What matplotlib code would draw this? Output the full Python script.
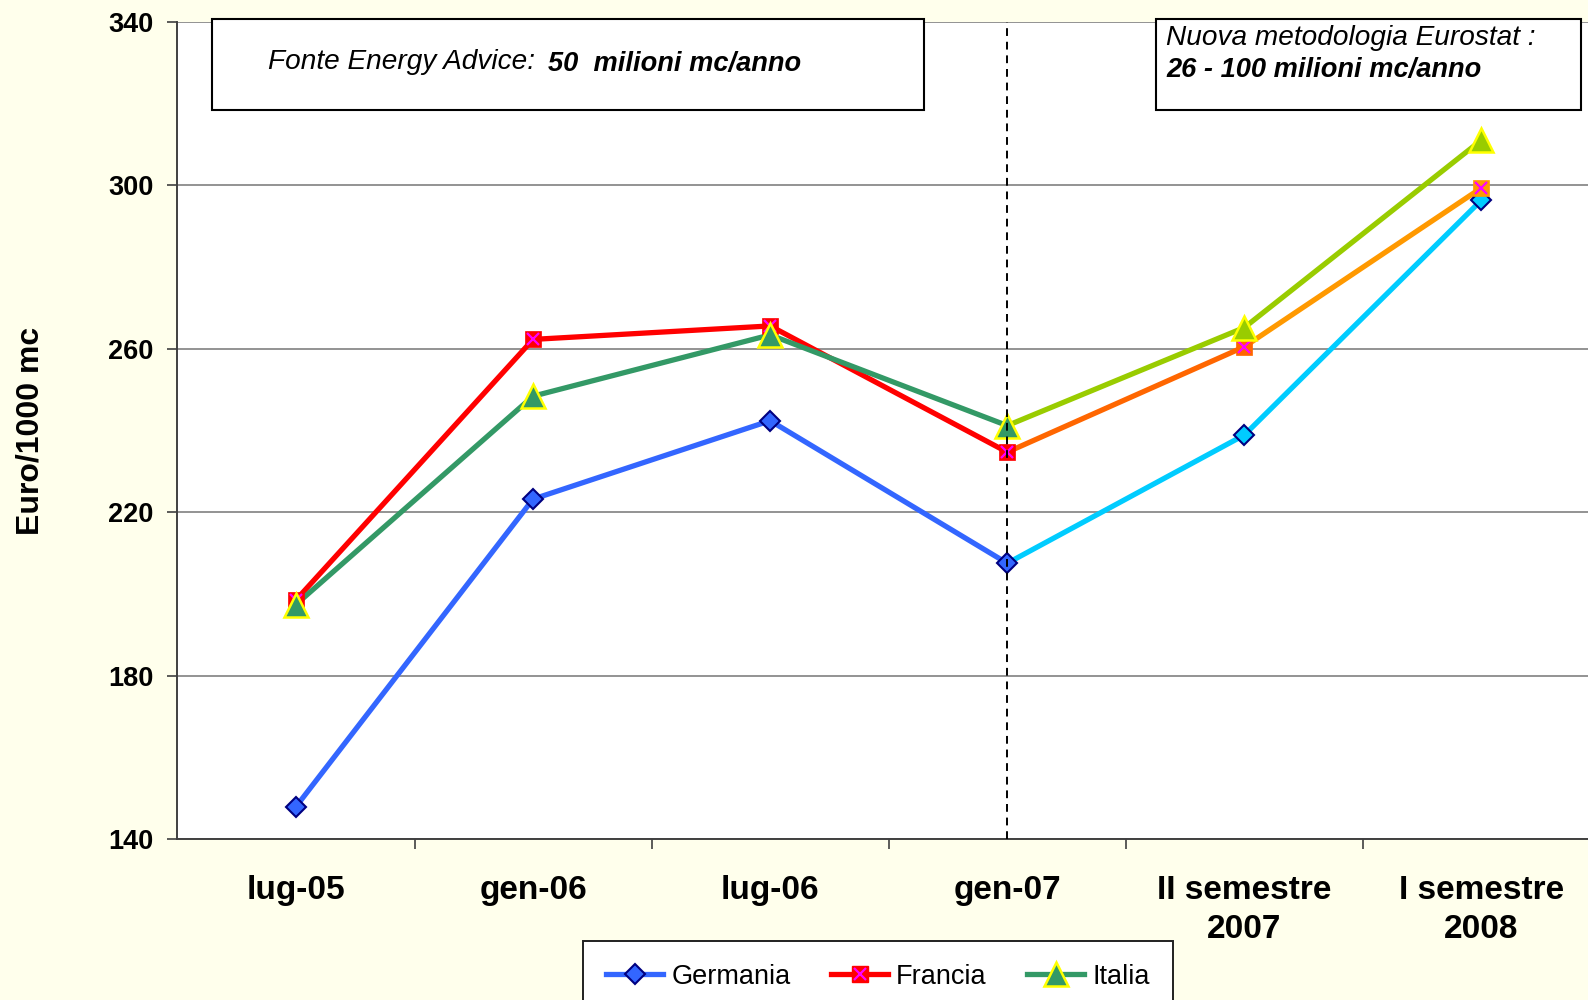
import matplotlib
matplotlib.use("Agg")
import matplotlib.pyplot as plt
from matplotlib.lines import Line2D
from matplotlib.patches import Rectangle
from matplotlib.legend_handler import HandlerTuple

plt.rcParams['font.family'] = ['Liberation Sans', 'DejaVu Sans']

categories = ["lug-05", "gen-06", "lug-06", "gen-07", "II semestre\n2007", "I semestre\n2008"]
germania = [147.9, 223.2, 242.4, 207.5, 238.9, 296.4]
francia = [198.5, 262.3, 265.6, 234.7, 260.5, 299.4]
italia = [197.4, 248.4, 263.4, 241.2, 265.2, 311.1]
yticks = [140, 180, 220, 260, 300, 340]
series_names = ["Germania", "Francia", "Italia"]

BG = '#FFFFEC'
fig = plt.figure(figsize=(15.88, 10), dpi=100, facecolor=BG)
left = 177.4 / 1588
width = (1600 - 177.4) / 1588
ax = fig.add_axes([left, 0.161, width, 0.817])
ax.set_facecolor('white')

x = list(range(len(categories)))
lw = 3.8

# Germania
ax.plot(x[:4], germania[:4], color='#3366FF', lw=lw, zorder=3, solid_capstyle='round')
ax.plot(x[3:], germania[3:], color='#00CCFF', lw=lw, zorder=3, solid_capstyle='round')
# Francia
ax.plot(x[:4], francia[:4], color='#FF0000', lw=lw, zorder=3, solid_capstyle='round')
ax.plot(x[3:5], francia[3:5], color='#FF6600', lw=lw, zorder=3, solid_capstyle='round')
ax.plot(x[4:], francia[4:], color='#FF9900', lw=lw, zorder=3, solid_capstyle='round')
# Italia
ax.plot(x[:4], italia[:4], color='#339966', lw=lw, zorder=3, solid_capstyle='round')
ax.plot(x[3:], italia[3:], color='#99CC00', lw=lw, zorder=3, solid_capstyle='round')

# markers
ax.plot(x[:4], germania[:4], ls='none', marker='D', ms=10, mfc='#3366FF', mec='#000080', mew=1.5, zorder=4)
ax.plot(x[4:], germania[4:], ls='none', marker='D', ms=10, mfc='#00CCFF', mec='#000080', mew=1.5, zorder=4)

ax.plot(x[:4], francia[:4], ls='none', marker='s', ms=11.5, mfc='#FF0000', mec='#FF0000', mew=0.5, zorder=4)
ax.plot(x[4:5], francia[4:5], ls='none', marker='s', ms=11.5, mfc='#FF6600', mec='#FF6600', mew=0.5, zorder=4)
ax.plot(x[5:], francia[5:], ls='none', marker='s', ms=11.5, mfc='#FF9900', mec='#FF9900', mew=0.5, zorder=4)
ax.plot(x, francia, ls='none', marker='x', ms=9, mec='#FF00FF', mew=1.6, zorder=4)

ax.plot(x[:4], italia[:4], ls='none', marker='^', ms=17, mfc='#339966', mec='#FFFF00', mew=1.8, zorder=5)
ax.plot(x[4:], italia[4:], ls='none', marker='^', ms=17, mfc='#99CC00', mec='#FFFF00', mew=1.8, zorder=5)

# dashed separator
ax.axvline(3, color='black', lw=1.4, ls=(0, (4, 3)), zorder=6)

ax.set_xlim(-0.5, 5.5)
ax.set_ylim(140, 340)
ax.set_yticks(yticks)
ax.set_yticklabels([str(v) for v in yticks], fontsize=19.5, fontweight='bold')
ax.set_xticks(x)
ax.set_xticklabels(categories, fontsize=24, fontweight='bold', linespacing=1.32)
ax.set_xticks([i + 0.5 for i in range(5)], minor=True)
ax.tick_params(axis='x', which='major', length=0, pad=26)
ax.tick_params(axis='x', which='minor', length=7, width=1.2, color='#404040', direction='out')
ax.tick_params(axis='y', length=7, width=1.2, color='#404040', direction='out', pad=10)
ax.yaxis.grid(True, color='#808080', lw=1.2)
ax.set_axisbelow(True)
for s in ['top', 'right']:
    ax.spines[s].set_visible(False)
for s in ['left', 'bottom']:
    ax.spines[s].set_color('#404040')
    ax.spines[s].set_linewidth(1.4)

ax.set_ylabel("Euro/1000 mc", fontsize=23, fontweight='bold')
ax.yaxis.set_label_coords(-0.093, 0.5)

# annotation boxes (figure coords)
def fig_rect(x0, y0, x1, y1):
    r = Rectangle((x0 / 1588, 1 - y1 / 1000), (x1 - x0) / 1588, (y1 - y0) / 1000,
                  transform=fig.transFigure, facecolor='white', edgecolor='black', lw=1.5, zorder=10)
    fig.patches.append(r)

fig_rect(212, 19, 924, 110)
fig_rect(1156, 19, 1581, 110)

fig.text(268 / 1588, 1 - 69 / 1000, "Fonte Energy Advice:", fontsize=20.2, style='italic',
         va='baseline', ha='left', zorder=11)
fig.text(548 / 1588, 1 - 71 / 1000, "50  milioni mc/anno", fontsize=19.6, style='italic',
         fontweight='bold', va='baseline', ha='left', zorder=11)
fig.text(1166 / 1588, 1 - 45 / 1000, "Nuova metodologia Eurostat :", fontsize=20.2, style='italic',
         va='baseline', ha='left', zorder=11)
fig.text(1166 / 1588, 1 - 77 / 1000, "26 - 100 milioni mc/anno", fontsize=19.6, style='italic',
         fontweight='bold', va='baseline', ha='left', zorder=11)

# legend
h_g = Line2D([], [], color='#3366FF', lw=lw, marker='D', ms=10, mfc='#3366FF', mec='#000080', mew=1.5)
h_f1 = Line2D([], [], color='#FF0000', lw=lw, marker='s', ms=11.5, mfc='#FF0000', mec='#FF0000')
h_f2 = Line2D([], [], color='none', lw=0, marker='x', ms=9, mec='#FF00FF', mew=1.6)
h_i = Line2D([], [], color='#339966', lw=lw, marker='^', ms=17, mfc='#339966', mec='#FFFF00', mew=1.8)
leg = fig.legend([h_g, (h_f1, h_f2), h_i], series_names, loc='upper center',
                 bbox_to_anchor=(0.553, 0.073), ncol=3, fontsize=19.5, frameon=True,
                 fancybox=False, framealpha=1, edgecolor='#202020', handlelength=2.1,
                 handletextpad=0.3, columnspacing=1.5, borderpad=0.85,
                 handler_map={tuple: HandlerTuple(ndivide=1, pad=0)})
leg.get_frame().set_linewidth(1.4)

fig.savefig("out.png", dpi=100, facecolor=BG)
